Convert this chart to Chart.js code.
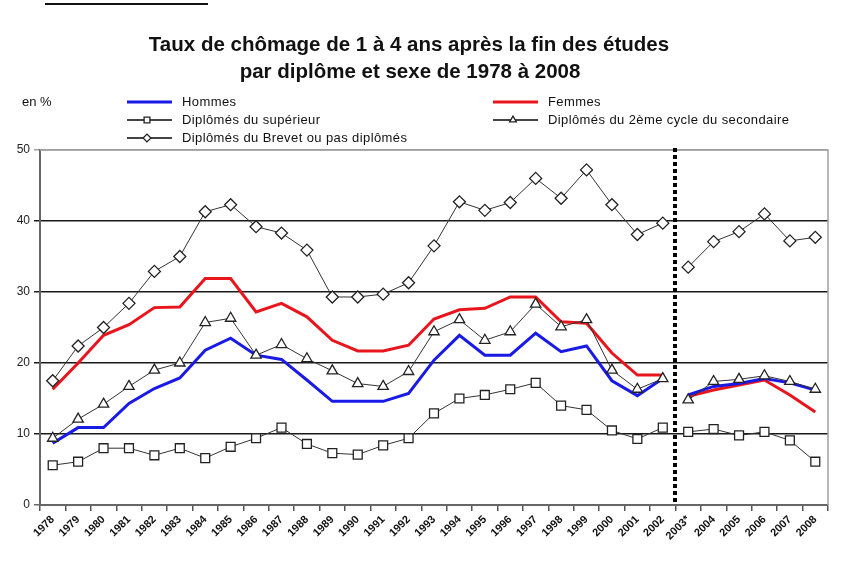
<!DOCTYPE html>
<html><head><meta charset="utf-8">
<script src="https://cdn.jsdelivr.net/npm/chart.js@4.4.0/dist/chart.umd.min.js"></script>
<style>html,body{margin:0;padding:0;background:#fff;}#wrap{position:relative;width:847px;height:575px;}canvas{display:block;}</style>
</head><body><div id="wrap"><canvas id="c" width="847" height="575"></canvas></div>
<script>
const years = ['1978','1979','1980','1981','1982','1983','1984','1985','1986','1987','1988','1989','1990','1991','1992','1993','1994','1995','1996','1997','1998','1999','2000','2001','2002','2003*','2004','2005','2006','2007','2008'];
const hommes    = [8.7,10.9,10.9,14.3,16.4,17.9,21.8,23.5,21.1,20.5,17.6,14.6,14.6,14.6,15.7,20.4,23.9,21.1,21.1,24.2,21.6,22.4,17.5,15.4,17.8,15.5,16.7,17.1,17.8,17.2,16.2];
const femmes    = [16.3,20.0,23.9,25.4,27.8,27.9,31.9,31.9,27.2,28.4,26.5,23.2,21.7,21.7,22.5,26.2,27.5,27.7,29.3,29.3,25.8,25.6,21.4,18.3,18.3,15.3,16.2,16.9,17.6,15.5,13.1];
const superieur = [5.6,6.1,8.0,8.0,7.0,8.0,6.6,8.2,9.4,10.9,8.6,7.3,7.1,8.4,9.4,12.9,15.0,15.5,16.3,17.2,14.0,13.4,10.5,9.3,10.9,10.3,10.7,9.8,10.3,9.1,6.1];
const second    = [9.4,12.1,14.2,16.7,19.0,20.0,25.7,26.3,21.1,22.6,20.6,18.9,17.1,16.7,18.8,24.4,26.1,23.2,24.4,28.3,25.1,26.1,19.0,16.3,17.8,14.8,17.4,17.7,18.2,17.4,16.3];
const brevet    = [17.5,22.4,25.0,28.4,32.9,35.0,41.3,42.3,39.2,38.3,35.9,29.3,29.3,29.7,31.3,36.5,42.7,41.5,42.6,46.0,43.2,47.2,42.3,38.1,39.7,33.5,37.1,38.5,41.0,37.2,37.7];
const yTicks = [0,10,20,30,40,50];
const titleLines = ['Taux de chômage de 1 à 4 ans après la fin des études','par diplôme et sexe de 1978 à 2008'];
const unitLabel = 'en %';
const breakAfter = 24; // rupture de série entre 2002 et 2003

const seg = {borderColor: ctx => ctx.p0DataIndex === breakAfter ? 'rgba(0,0,0,0)' : undefined};
const markerSet = (label, data, style, r) => ({
  label, data, borderColor:'#333', borderWidth:1, pointStyle:style, pointRadius:r, pointHoverRadius:r,
  pointBackgroundColor:'#fff', pointBorderColor:'#222', pointBorderWidth:1.3, tension:0, segment:seg, fill:false
});
const datasets = [
  markerSet('Diplômés du supérieur', superieur, 'rect', 6.3),
  markerSet('Diplômés du 2ème cycle du secondaire', second, 'triangle', 6),
  markerSet('Diplômés du Brevet ou pas diplômés', brevet, 'rectRot', 6),
  {label:'Hommes', data:hommes, borderColor:'#1a1ae6', borderWidth:3, pointRadius:0, tension:0, segment:seg, fill:false},
  {label:'Femmes', data:femmes, borderColor:'#e8161c', borderWidth:3, pointRadius:0, tension:0, segment:seg, fill:false}
];

const legendItems = [
  {ds:3, x:127, y:102}, {ds:4, x:493, y:102},
  {ds:0, x:127, y:120}, {ds:1, x:493, y:120},
  {ds:2, x:127, y:138}
];

const deco = {
  id:'deco',
  beforeDatasetsDraw(chart){
    const {ctx, chartArea:a} = chart;
    ctx.save();
    ctx.strokeStyle = '#a0a0a0'; ctx.lineWidth = 1.5;
    ctx.beginPath(); ctx.moveTo(a.left, a.top); ctx.lineTo(a.right, a.top); ctx.lineTo(a.right, a.bottom); ctx.stroke();
    ctx.restore();
  },
  afterDatasetsDraw(chart){
    const {ctx, chartArea:a, scales} = chart;
    const xs = scales.x;
    const x = Math.round((xs.getPixelForValue(breakAfter) + xs.getPixelForValue(breakAfter+1)) / 2);
    ctx.save();
    ctx.strokeStyle = '#000'; ctx.lineWidth = 4; ctx.setLineDash([4,3]);
    ctx.beginPath(); ctx.moveTo(x, a.top - 2); ctx.lineTo(x, a.bottom - 2); ctx.stroke();
    ctx.restore();
  },
  afterDraw(chart){
    const {ctx} = chart;
    ctx.save();
    // trait en haut à gauche
    ctx.strokeStyle = '#111'; ctx.lineWidth = 2;
    ctx.beginPath(); ctx.moveTo(45, 4); ctx.lineTo(208, 4); ctx.stroke();
    // titre
    ctx.fillStyle = '#111'; ctx.textAlign = 'center'; ctx.textBaseline = 'middle';
    ctx.font = 'bold 20.5px "Liberation Sans", Arial, sans-serif';
    ctx.fillText(titleLines[0], 409, 45);
    ctx.fillText(titleLines[1], 410, 72);
    // unité
    ctx.textAlign = 'left';
    ctx.font = '13px "Liberation Sans", Arial, sans-serif';
    ctx.fillText(unitLabel, 22, 102);
    // légende
    legendItems.forEach(it => {
      const d = chart.data.datasets[it.ds];
      const hasMarker = d.pointRadius > 0;
      ctx.strokeStyle = hasMarker ? '#444' : d.borderColor; ctx.lineWidth = hasMarker ? 2 : d.borderWidth;
      ctx.setLineDash([]);
      ctx.beginPath(); ctx.moveTo(it.x, it.y); ctx.lineTo(it.x + 45, it.y); ctx.stroke();
      if (hasMarker) {
        ctx.fillStyle = '#fff'; ctx.strokeStyle = '#222'; ctx.lineWidth = 1.3;
        Chart.helpers.drawPoint(ctx, {pointStyle:d.pointStyle, radius:d.pointRadius*0.65, rotation:0, borderWidth:1.3}, it.x + 20, it.y);
      }
      ctx.fillStyle = '#111';
      ctx.font = '13px "Liberation Sans", Arial, sans-serif';
      ctx.letterSpacing = '0.4px';
      ctx.textBaseline = 'middle';
      ctx.fillText(d.label, it.x + 55, it.y);
      ctx.letterSpacing = '0px';
    });
    ctx.restore();
  }
};

new Chart(document.getElementById('c'), {
  type:'line',
  data:{labels:years, datasets},
  options:{
    responsive:false, animation:false, devicePixelRatio:1,
    layout:{padding:{top:150, right:19, left:0, bottom:0}},
    plugins:{legend:{display:false}, title:{display:false}, tooltip:{enabled:false}},
    scales:{
      x:{
        type:'category', offset:true,
        grid:{offset:true, drawOnChartArea:false, drawTicks:true, tickLength:6, color:'#555', lineWidth:1.5},
        border:{display:true, color:'#666', width:2},
        ticks:{autoSkip:false, maxRotation:45, minRotation:45, padding:2, color:'#111', font:{family:'"Liberation Sans", Arial, sans-serif', size:11, weight:'bold'}},
        afterFit(s){ s.height = 70; }
      },
      y:{
        min:0, max:50,
        afterBuildTicks(s){ s.ticks = yTicks.map(v => ({value:v})); },
        grid:{drawTicks:true, tickLength:6, color: c => c.tick.value === 50 ? '#a0a0a0' : (c.tick.value === 0 ? '#666' : '#1a1a1a'), lineWidth:1.5},
        border:{display:true, color:'#666', width:2},
        ticks:{padding:4, color:'#222', font:{family:'"Liberation Sans", Arial, sans-serif', size:12}},
        afterFit(s){ s.width = 40; }
      }
    }
  },
  plugins:[deco]
});
</script></body></html>
